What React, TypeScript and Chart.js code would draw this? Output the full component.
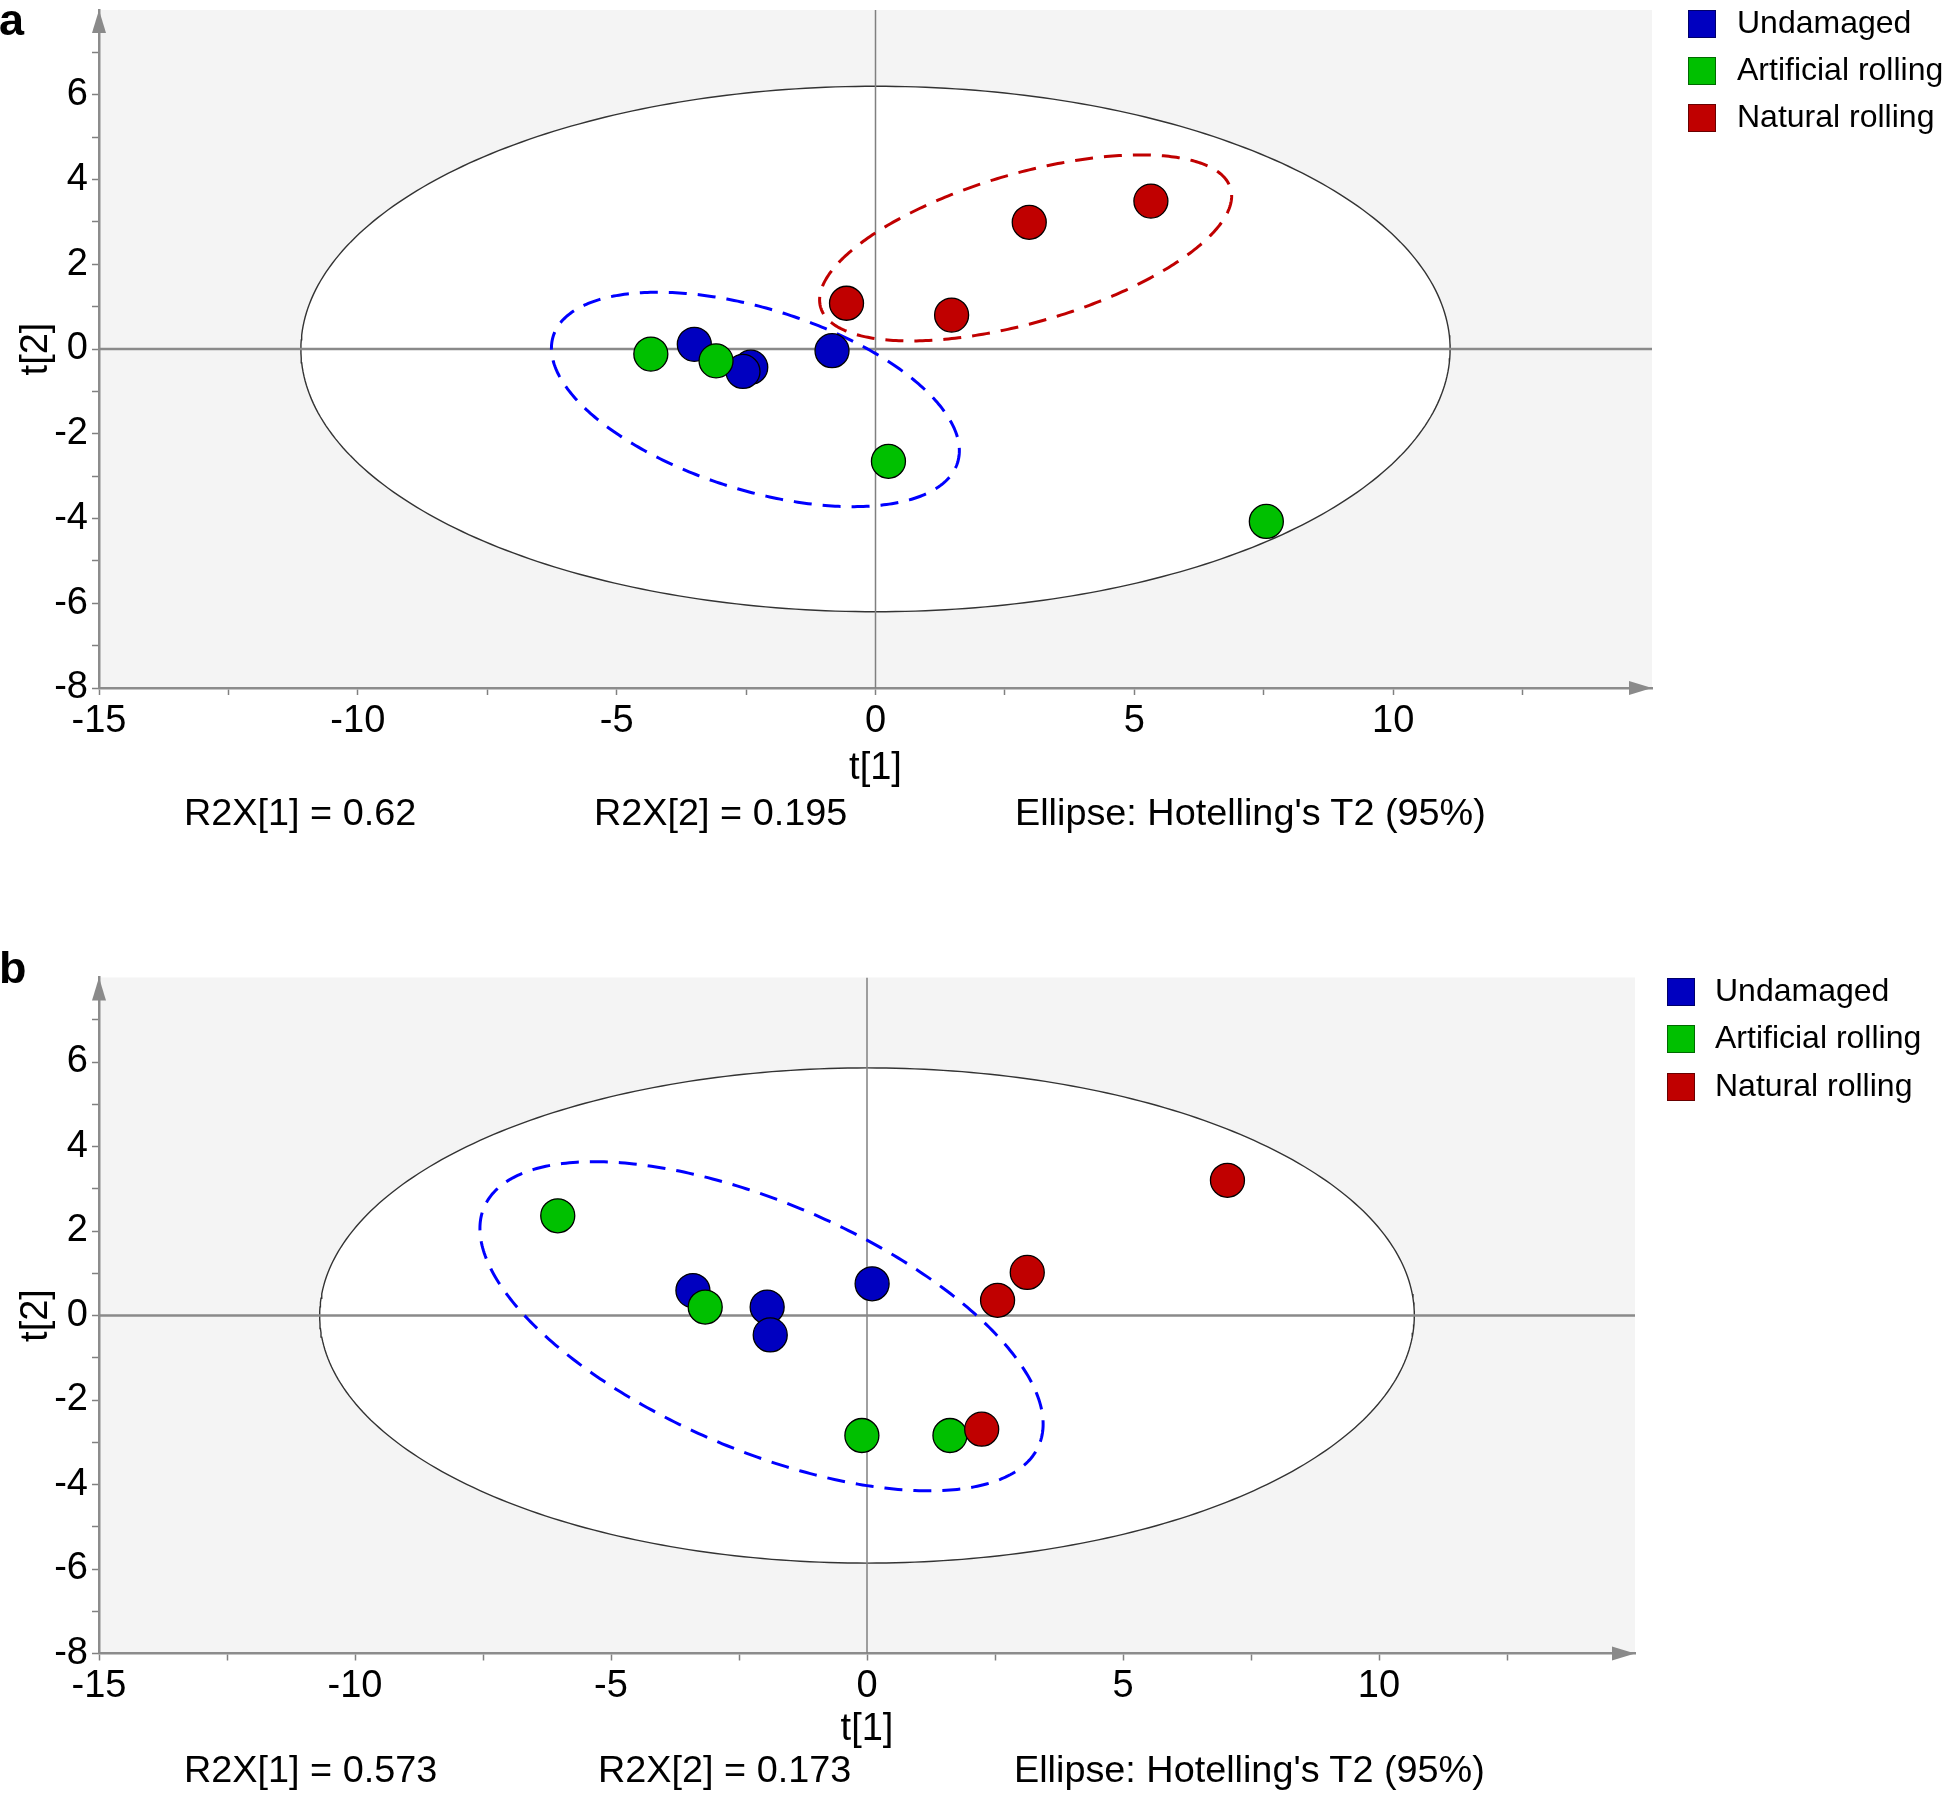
import React, { useEffect, useRef } from 'react';
import { Chart, registerables } from 'chart.js';

Chart.register(...registerables);

const FONT = "'Liberation Sans', Arial, Helvetica, sans-serif";

// ---------- data ----------
const seriesNames = ['Undamaged', 'Artificial rolling', 'Natural rolling'];
const seriesColors = ['#0000c0', '#00c000', '#c00000'];

// Panel a: [t1, t2]
const undamagedA: number[][] = [[-3.50, 0.11], [-2.41, -0.43], [-2.56, -0.53], [-0.84, -0.04]];
const artificialA: number[][] = [[-4.34, -0.12], [-3.08, -0.28], [0.25, -2.65], [7.55, -4.07]];
const naturalA: number[][] = [[-0.56, 1.08], [1.47, 0.80], [2.97, 2.99], [5.32, 3.49]];

// Panel b: [t1, t2]
const undamagedB: number[][] = [[-3.40, 0.59], [-1.95, 0.20], [-1.89, -0.46], [0.10, 0.75]];
const artificialB: number[][] = [[-6.04, 2.36], [-3.16, 0.20], [-0.10, -2.84], [1.62, -2.84]];
const naturalB: number[][] = [[2.24, -2.69], [2.55, 0.36], [3.13, 1.02], [7.04, 3.20]];

// Ellipses: [centre t1, centre t2, half-width t1, half-height t2, cos(phase)]
const hotellingA = [0, 0, 11.1, 6.2, 0];
const groupEllipseBlueA = [-2.32, -1.19, 3.94, 2.53, -0.478];
const groupEllipseRedA = [2.90, 2.385, 3.98, 2.195, 0.558];
const hotellingB = [0, 0, 10.69, 5.86, 0];
const groupEllipseBlueB = [-2.06, -0.255, 5.5, 3.895, -0.594];

const xTickLabels = [-15, -10, -5, 0, 5, 10];
const yTickLabels = [-8, -6, -4, -2, 0, 2, 4, 6];
const xRange = [-15, 15];
const yRange = [-8, 8];

const r2xA = ['0.62', '0.195'];
const r2xB = ['0.573', '0.173'];
const ellipseNote = "Ellipse: Hotelling's T2 (95%)";

// ---------- helpers ----------
function ellipsePoints(p: number[]) {
  const [cx, cy, w, h, cd] = p;
  const d = Math.acos(cd);
  const pts: { x: number; y: number }[] = [];
  const n = 360;
  for (let i = 0; i <= n; i++) {
    const t = (i / n) * Math.PI * 2;
    pts.push({ x: cx + w * Math.cos(t), y: cy + h * Math.cos(t + d) });
  }
  return pts;
}

const toXY = (arr: number[][]) => arr.map(([x, y]) => ({ x, y }));

const bgPlugin = {
  id: 'plotBg',
  beforeDraw(chart: any) {
    const { ctx, chartArea } = chart;
    if (!chartArea) return;
    ctx.save();
    ctx.fillStyle = '#f4f4f4';
    ctx.fillRect(chartArea.left, chartArea.top, chartArea.right - chartArea.left, chartArea.bottom - chartArea.top);
    ctx.restore();
  },
};

const arrowPlugin = {
  id: 'axisArrows',
  afterDraw(chart: any) {
    const { ctx, chartArea } = chart;
    const { left, right, top, bottom } = chartArea;
    ctx.save();
    ctx.fillStyle = '#8a8a8a';
    ctx.beginPath();
    ctx.moveTo(right, bottom);
    ctx.lineTo(right - 23, bottom - 7);
    ctx.lineTo(right - 23, bottom + 7);
    ctx.closePath();
    ctx.fill();
    ctx.beginPath();
    ctx.moveTo(left, top);
    ctx.lineTo(left - 7, top + 23);
    ctx.lineTo(left + 7, top + 23);
    ctx.closePath();
    ctx.fill();
    ctx.restore();
  },
};

type PanelProps = {
  top: number;
  height: number;
  padding: { left: number; top: number; right: number; bottom: number };
  xTitlePad: number;
  groups: number[][][];
  hotelling: number[];
  groupEllipses: { p: number[]; color: string }[];
};

function Panel({ top, height, padding, xTitlePad, groups, hotelling, groupEllipses }: PanelProps) {
  const ref = useRef<HTMLCanvasElement>(null);
  useEffect(() => {
    if (!ref.current) return;
    const datasets: any[] = [];
    // points: red on top, then green, then blue
    groups.forEach((g, i) => {
      datasets.push({
        type: 'scatter',
        label: seriesNames[i],
        data: toXY(g),
        backgroundColor: seriesColors[i],
        borderColor: '#000',
        borderWidth: 1.3,
        pointRadius: 17,
        pointStyle: 'circle',
        order: 2 - i,
      });
    });
    groupEllipses.forEach((e, i) => {
      datasets.push({
        type: 'line',
        data: ellipsePoints(e.p),
        borderColor: e.color,
        borderWidth: 3,
        borderDash: [18, 11],
        pointRadius: 0,
        tension: 0,
        fill: false,
        order: 4 + i,
      });
    });
    datasets.push({
      type: 'line',
      data: [{ x: xRange[0], y: 0 }, { x: xRange[1], y: 0 }],
      borderColor: '#8a8a8a',
      borderWidth: 2.5,
      pointRadius: 0,
      fill: false,
      order: 8,
    });
    datasets.push({
      type: 'line',
      data: [{ x: 0, y: yRange[0] }, { x: 0, y: yRange[1] }],
      borderColor: '#808080',
      borderWidth: 1.5,
      pointRadius: 0,
      fill: false,
      order: 8,
    });
    datasets.push({
      type: 'line',
      data: ellipsePoints(hotelling),
      borderColor: '#333',
      borderWidth: 1.4,
      backgroundColor: '#ffffff',
      fill: 'shape',
      pointRadius: 0,
      tension: 0,
      order: 10,
    });

    const tickFont = { family: FONT, size: 38 };
    const chart = new Chart(ref.current, {
      type: 'scatter',
      data: { datasets },
      plugins: [bgPlugin, arrowPlugin],
      options: {
        responsive: false,
        animation: false,
        events: [],
        layout: { padding },
        plugins: { legend: { display: false }, tooltip: { enabled: false } },
        scales: {
          x: {
            type: 'linear',
            min: xRange[0],
            max: xRange[1],
            afterFit: (s: any) => {
              s.height = 130;
              s.paddingLeft = 0;
              s.paddingRight = 0;
            },
            ticks: {
              stepSize: 2.5,
              autoSkip: false,
              maxRotation: 0,
              minRotation: 0,
              padding: 3.5,
              color: '#000',
              font: tickFont,
              callback: (v: any) => (xTickLabels.includes(Number(v)) ? String(v) : ''),
            },
            grid: {
              drawOnChartArea: false,
              drawTicks: true,
              tickLength: 7,
              tickWidth: 1.5,
              tickColor: (c: any) => (c.tick && c.tick.value >= xRange[1] ? 'rgba(0,0,0,0)' : '#808080'),
            },
            border: { display: true, color: '#8c8c8c', width: 2.5 },
            title: { display: true, text: 't[1]', color: '#000', font: tickFont, padding: { top: 0, bottom: xTitlePad } },
          },
          y: {
            type: 'linear',
            min: yRange[0],
            max: yRange[1],
            afterFit: (s: any) => {
              s.width = 99;
              s.paddingTop = 0;
              s.paddingBottom = 0;
            },
            ticks: {
              stepSize: 1,
              autoSkip: false,
              padding: 4,
              color: '#000',
              font: tickFont,
              callback: (v: any) => (yTickLabels.includes(Number(v)) ? String(v) : ''),
            },
            grid: {
              drawOnChartArea: false,
              drawTicks: true,
              tickLength: 7,
              tickWidth: 1.5,
              tickColor: (c: any) => (c.tick && c.tick.value >= yRange[1] ? 'rgba(0,0,0,0)' : '#808080'),
            },
            border: { display: true, color: '#8c8c8c', width: 2.5 },
            title: { display: true, text: 't[2]', color: '#000', font: tickFont, padding: { top: 14, bottom: 0 } },
          },
        },
      } as any,
    });
    return () => chart.destroy();
  }, []);
  return (
    <canvas
      ref={ref}
      width={1946}
      height={height}
      style={{ position: 'absolute', left: 0, top, width: 1946, height, display: 'block' }}
    />
  );
}

function Legend({ squareLeft, textLeft, centers }: { squareLeft: number; textLeft: number; centers: number[] }) {
  return (
    <>
      {seriesNames.map((n, i) => (
        <React.Fragment key={n}>
          <div
            style={{
              position: 'absolute',
              left: squareLeft,
              top: centers[i] - 14,
              width: 28,
              height: 28,
              boxSizing: 'border-box',
              background: seriesColors[i],
              border: '1px solid rgba(0,0,0,0.45)',
            }}
          />
          <div
            style={{
              position: 'absolute',
              left: textLeft,
              top: centers[i] - 18,
              height: 32,
              lineHeight: '32px',
              fontFamily: FONT,
              fontSize: 32,
              color: '#000',
              whiteSpace: 'nowrap',
            }}
          >
            {n}
          </div>
        </React.Fragment>
      ))}
    </>
  );
}

function Note({ left, top, text }: { left: number; top: number; text: string }) {
  return (
    <div
      style={{
        position: 'absolute',
        left,
        top,
        fontFamily: FONT,
        fontSize: 37.8,
        lineHeight: '38px',
        color: '#000',
        whiteSpace: 'nowrap',
      }}
    >
      {text}
    </div>
  );
}

function PanelLabel({ top, text }: { top: number; text: string }) {
  return (
    <div
      style={{
        position: 'absolute',
        left: -1,
        top,
        fontFamily: FONT,
        fontWeight: 'bold',
        fontSize: 45,
        lineHeight: '45px',
        color: '#000',
      }}
    >
      {text}
    </div>
  );
}

export default function App() {
  useEffect(() => {
    document.documentElement.style.overflow = 'hidden';
  }, []);
  return (
    <div
      style={{
        position: 'absolute',
        left: 0,
        top: 0,
        width: 1946,
        height: 1793,
        overflow: 'hidden',
        background: '#fff',
      }}
    >
      <Panel
        top={-40}
        height={936}
        padding={{ left: 0, top: 50, right: 294, bottom: 78 }}
        xTitlePad={26.2}
        groups={[undamagedA, artificialA, naturalA]}
        hotelling={hotellingA}
        groupEllipses={[
          { p: groupEllipseBlueA, color: '#0000ff' },
          { p: groupEllipseRedA, color: '#c00000' },
        ]}
      />
      <Panel
        top={896}
        height={897}
        padding={{ left: 0, top: 81.5, right: 311, bottom: 9.5 }}
        xTitlePad={31}
        groups={[undamagedB, artificialB, naturalB]}
        hotelling={hotellingB}
        groupEllipses={[{ p: groupEllipseBlueB, color: '#0000ff' }]}
      />
      <PanelLabel top={-3} text="a" />
      <PanelLabel top={945} text="b" />
      <Legend squareLeft={1688} textLeft={1737} centers={[23.5, 70.7, 117.9]} />
      <Legend squareLeft={1667} textLeft={1715} centers={[991.5, 1038.7, 1087.1]} />
      <Note left={184} top={792.5} text={`R2X[1] = ${r2xA[0]}`} />
      <Note left={594} top={792.5} text={`R2X[2] = ${r2xA[1]}`} />
      <Note left={1015} top={792.5} text={ellipseNote} />
      <Note left={184} top={1750} text={`R2X[1] = ${r2xB[0]}`} />
      <Note left={598} top={1750} text={`R2X[2] = ${r2xB[1]}`} />
      <Note left={1014} top={1750} text={ellipseNote} />
    </div>
  );
}
